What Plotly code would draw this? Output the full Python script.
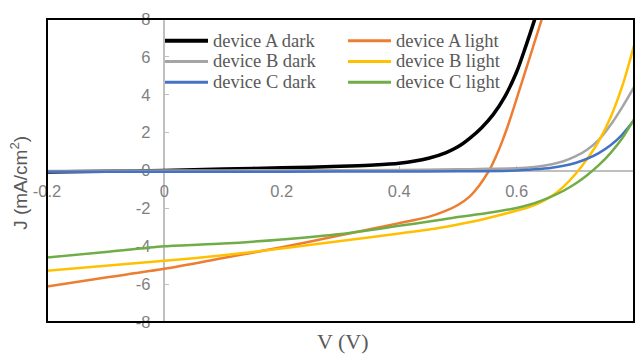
import plotly.graph_objects as go

# Figure geometry (pixels)
W, H = 644, 358
M_L, M_R, M_T, M_B = 47, 10, 15, 36
PW, PH = W - M_L - M_R, H - M_T - M_B

X_RANGE = [-0.2, 0.8]
Y_RANGE = [-8, 8]

x_tickvals = [-0.2, 0, 0.2, 0.4, 0.6, 0.8]
x_ticktext = ["-0.2", "0", "0.2", "0.4", "0.6", "0.8"]
y_tickvals = [-8, -6, -4, -2, 0, 2, 4, 6, 8]
y_ticktext = ["-8", "-6", "-4", "-2", "0", "2", "4", "6", "8"]

# J-V data (V in volts, J in mA/cm^2)
v_a_dark = [-0.2, -0.1, 0.0, 0.1, 0.2, 0.3, 0.35, 0.4, 0.45, 0.48, 0.5, 0.52,
            0.54, 0.56, 0.58, 0.6, 0.615, 0.63, 0.64]
j_a_dark = [-0.08, -0.04, 0.0, 0.08, 0.14, 0.22, 0.28, 0.38, 0.65, 0.95, 1.25, 1.7,
            2.25, 2.95, 3.9, 5.2, 6.5, 7.9, 8.9]

v_a_light = [-0.2, -0.1, 0.0, 0.1, 0.2, 0.3, 0.35, 0.4, 0.45, 0.48, 0.5, 0.52,
             0.535, 0.545, 0.555, 0.565, 0.575, 0.585, 0.595, 0.61, 0.62, 0.63,
             0.64, 0.65]
j_a_light = [-6.12, -5.65, -5.19, -4.62, -4.05, -3.42, -3.1, -2.78, -2.45, -2.12, -1.82,
             -1.38, -0.85, -0.4, 0.1, 0.75, 1.5, 2.35, 3.3, 4.76, 5.74, 6.72, 7.7, 8.7]

v_b_dark = [-0.2, 0.0, 0.2, 0.4, 0.5, 0.55, 0.6, 0.63, 0.66, 0.68, 0.7, 0.72,
            0.74, 0.76, 0.78, 0.8]
j_b_dark = [-0.02, 0.0, 0.01, 0.03, 0.06, 0.09, 0.12, 0.19, 0.33, 0.49, 0.74, 1.1,
            1.62, 2.4, 3.35, 4.4]

v_b_light = [-0.2, -0.1, 0.0, 0.1, 0.2, 0.3, 0.4, 0.465, 0.5, 0.55, 0.6, 0.62,
             0.64, 0.66, 0.68, 0.7, 0.72, 0.74, 0.76, 0.78, 0.8]
j_b_light = [-5.29, -5.03, -4.77, -4.48, -4.12, -3.72, -3.33, -3.05, -2.85, -2.52,
             -2.12, -1.95, -1.7, -1.35, -0.85, -0.2, 0.6, 1.55, 2.8, 4.45, 6.6]

v_c_dark = [-0.2, 0.0, 0.2, 0.4, 0.5, 0.6, 0.63, 0.66, 0.68, 0.7, 0.72, 0.74,
            0.76, 0.78, 0.8]
j_c_dark = [-0.07, -0.06, -0.06, -0.05, -0.04, 0.0, 0.06, 0.15, 0.25, 0.4, 0.62, 0.92,
            1.33, 1.9, 2.65]

v_c_light = [-0.2, -0.1, 0.0, 0.1, 0.2, 0.3, 0.4, 0.465, 0.5, 0.55, 0.6, 0.62,
             0.64, 0.66, 0.68, 0.7, 0.72, 0.74, 0.76, 0.78, 0.8]
j_c_light = [-4.6, -4.3, -4.0, -3.86, -3.64, -3.35, -2.92, -2.63, -2.46, -2.25, -1.98,
             -1.82, -1.62, -1.37, -1.07, -0.7, -0.25, 0.28, 0.92, 1.7, 2.7]

series_names = ["device A dark", "device A light", "device B dark",
                "device B light", "device C dark", "device C light"]
series_v = [v_a_dark, v_a_light, v_b_dark, v_b_light, v_c_dark, v_c_light]
series_j = [j_a_dark, j_a_light, j_b_dark, j_b_light, j_c_dark, j_c_light]
series_colors = ["#000000", "#ED7D31", "#A5A5A5", "#FFC000", "#4472C4", "#70AD47"]
series_widths = [3.5, 2.5, 2.5, 2.5, 2.5, 2.5]

TICK_FONT = dict(family="Liberation Sans, Arial, sans-serif", size=16.5, color="#7f7f7f")
SERIF = "Liberation Serif, Times New Roman, serif"
TEXT_GRAY = "#595959"


def to_paper(px, py):
    return (px - M_L) / PW, (H - M_B - py) / PH


fig = go.Figure()
for name, v, j, c, w in zip(series_names, series_v, series_j, series_colors, series_widths):
    fig.add_trace(go.Scatter(
        x=v, y=j, mode="lines", name=name,
        line=dict(color=c, width=w, shape="spline", smoothing=0.8),
        showlegend=False, hoverinfo="skip",
    ))

# Axes cross at the origin
x_pos = (0 - Y_RANGE[0]) / (Y_RANGE[1] - Y_RANGE[0])
y_pos = (0 - X_RANGE[0]) / (X_RANGE[1] - X_RANGE[0])

fig.update_layout(
    width=W, height=H,
    margin=dict(l=M_L, r=M_R, t=M_T, b=M_B, pad=0),
    paper_bgcolor="white", plot_bgcolor="white",
    xaxis=dict(
        range=X_RANGE, tickvals=x_tickvals, ticktext=x_ticktext,
        anchor="free", position=x_pos,
        showline=True, linecolor="#bfbfbf", linewidth=1.5,
        ticks="inside", ticklen=4, tickcolor="#bfbfbf", tickwidth=1,
        showgrid=False, zeroline=False, tickfont=TICK_FONT,
        ticklabelstandoff=6, layer="below traces",
    ),
    yaxis=dict(
        range=Y_RANGE, tickvals=y_tickvals, ticktext=y_ticktext,
        anchor="free", position=y_pos,
        showline=True, linecolor="#bfbfbf", linewidth=1.5,
        ticks="inside", ticklen=4, tickcolor="#bfbfbf", tickwidth=1,
        showgrid=False, zeroline=False, tickfont=TICK_FONT,
        ticklabelstandoff=10, layer="below traces",
    ),
    showlegend=False,
)

# Plot frame
fig.add_shape(type="rect", xref="paper", yref="paper", x0=0, y0=0, x1=1, y1=1,
              line=dict(color="black", width=2), layer="above")

# Axis titles
tx, ty = to_paper(343, 342)
fig.add_annotation(text="V (V)", xref="paper", yref="paper", x=tx, y=ty,
                   showarrow=False, xanchor="center", yanchor="middle",
                   font=dict(family=SERIF, size=22, color=TEXT_GRAY))
tx, ty = to_paper(19, 181)
fig.add_annotation(text="J (mA/cm<sup>2</sup>)", xref="paper", yref="paper", x=tx, y=ty,
                   showarrow=False, xanchor="center", yanchor="middle", textangle=-90,
                   font=dict(family="Liberation Sans, Arial, sans-serif", size=19,
                             color=TEXT_GRAY))

# Legend: two columns, three rows
col_x = [165, 348]
row_y = [37, 58, 79]
for i, (name, c, w) in enumerate(zip(series_names, series_colors, series_widths)):
    col, row = i % 2, i // 2
    x0, yy = to_paper(col_x[col], row_y[row])
    x1, _ = to_paper(col_x[col] + 43, row_y[row])
    xt, _ = to_paper(col_x[col] + 46, row_y[row])
    fig.add_shape(type="line", xref="paper", yref="paper", x0=x0, x1=x1, y0=yy, y1=yy,
                  line=dict(color=c, width=w + 0.5))
    fig.add_annotation(text=name, xref="paper", yref="paper", x=xt, y=yy,
                       showarrow=False, xanchor="left", yanchor="middle",
                       font=dict(family=SERIF, size=18.5, color=TEXT_GRAY))

fig.write_html("out.html")
